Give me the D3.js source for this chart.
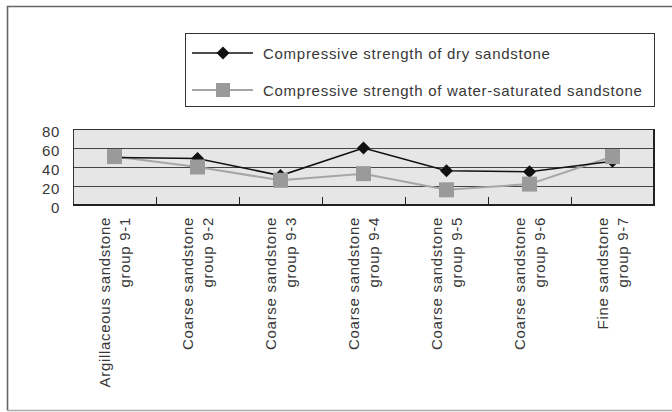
<!DOCTYPE html>
<html>
<head>
<meta charset="utf-8">
<script src="https://cdn.jsdelivr.net/npm/d3@7/dist/d3.min.js"></script>
<style>
  html, body { margin: 0; padding: 0; background: #fff; }
  svg text { font-family: "Liberation Sans", Arial, Helvetica, sans-serif; fill: #383838; letter-spacing: 0.6px; }
</style>
</head>
<body>
<svg id="chart" width="672" height="412"></svg>
<script>
// Rock groups (two-line labels) and compressive strengths
const categories = [
  ["Argillaceous sandstone", "group 9-1"],
  ["Coarse sandstone", "group 9-2"],
  ["Coarse sandstone", "group 9-3"],
  ["Coarse sandstone", "group 9-4"],
  ["Coarse sandstone", "group 9-5"],
  ["Coarse sandstone", "group 9-6"],
  ["Fine sandstone", "group 9-7"]
];
const drySeries = [50, 49, 31, 60, 36, 35, 46];
const wetSeries = [51, 40, 26, 33, 16, 22, 51];
const yTicks = [0, 20, 40, 60, 80];
const seriesNames = [
  "Compressive strength of dry sandstone",
  "Compressive strength of water-saturated sandstone"
];

const svg = d3.select("#chart");
const plot = { left: 73, top: 129, right: 654, bottom: 205 };

const x = d3.scaleBand()
  .domain(d3.range(categories.length))
  .range([plot.left, plot.right])
  .padding(0);
const y = d3.scaleLinear().domain([0, 80]).range([plot.bottom, plot.top]);
const cx = i => x(i) + x.bandwidth() / 2;

// outer frame (its right edge runs off the page)
svg.append("path")
  .attr("d", `M 690 6.5 H 7.5 V 410.5`)
  .attr("fill", "none").attr("stroke", "#666").attr("stroke-width", 1.6);
svg.append("line")
  .attr("x1", 7.5).attr("x2", 690).attr("y1", 410.5).attr("y2", 410.5)
  .attr("stroke", "#aaa").attr("stroke-width", 1.4);

// plot background
svg.append("rect")
  .attr("x", plot.left).attr("y", plot.top)
  .attr("width", plot.right - plot.left).attr("height", plot.bottom - plot.top)
  .attr("fill", "#e6e6e6");

// horizontal gridlines
svg.append("g")
  .selectAll("line")
  .data(yTicks.filter(t => t > 0 && t < 80))
  .join("line")
  .attr("x1", plot.left).attr("x2", plot.right)
  .attr("y1", d => Math.round(y(d)) + 0.5).attr("y2", d => Math.round(y(d)) + 0.5)
  .attr("stroke", "#444").attr("stroke-width", 1);

// category boundary ticks, pointing up from the bottom edge
svg.append("g")
  .selectAll("line")
  .data(d3.range(1, categories.length))
  .join("line")
  .attr("x1", d => Math.round(x(d)) + 0.5).attr("x2", d => Math.round(x(d)) + 0.5)
  .attr("y1", plot.bottom).attr("y2", plot.bottom - 8)
  .attr("stroke", "#222").attr("stroke-width", 1);

// plot border with a heavier bottom/right edge
svg.append("rect")
  .attr("x", plot.left + 0.5).attr("y", plot.top + 0.5)
  .attr("width", plot.right - plot.left - 1).attr("height", plot.bottom - plot.top - 1)
  .attr("fill", "none").attr("stroke", "#333").attr("stroke-width", 1);
svg.append("path")
  .attr("d", `M ${plot.right} ${plot.top} V ${plot.bottom} H ${plot.left}`)
  .attr("fill", "none").attr("stroke", "#222").attr("stroke-width", 2);

// y tick labels
svg.append("g")
  .selectAll("text")
  .data(yTicks)
  .join("text")
  .attr("x", 60).attr("y", d => y(d) + 2)
  .attr("text-anchor", "end").attr("dominant-baseline", "central")
  .attr("font-size", 15)
  .text(d => d);

// category labels, rotated, two lines each
const catG = svg.append("g")
  .selectAll("g")
  .data(categories)
  .join("g")
  .attr("transform", (d, i) => `translate(${cx(i)},217) rotate(-90)`);
catG.each(function (d) {
  const g = d3.select(this);
  d.forEach((line, k) => {
    g.append("text")
      .attr("x", 0).attr("y", k === 0 ? -10 : 10)
      .attr("text-anchor", "end").attr("dominant-baseline", "central")
      .attr("font-size", 15)
      .style("letter-spacing", "0.7px")
      .text(line);
  });
});

// series lines
const lineGen = d3.line().x((d, i) => cx(i)).y(d => y(d));
svg.append("path").datum(wetSeries)
  .attr("d", lineGen).attr("fill", "none")
  .attr("stroke", "#a6a6a6").attr("stroke-width", 2);
svg.append("path").datum(drySeries)
  .attr("d", lineGen).attr("fill", "none")
  .attr("stroke", "#111").attr("stroke-width", 1.6);

// markers
const diamond = (px, py, r) => `M ${px} ${py - r} L ${px + r} ${py} L ${px} ${py + r} L ${px - r} ${py} Z`;
svg.append("g").selectAll("path")
  .data(drySeries)
  .join("path")
  .attr("d", (d, i) => diamond(cx(i), y(d), 6.5))
  .attr("fill", "#111");
svg.append("g").selectAll("rect")
  .data(wetSeries)
  .join("rect")
  .attr("x", (d, i) => cx(i) - 7.5).attr("y", d => y(d) - 7.5)
  .attr("width", 15).attr("height", 15)
  .attr("fill", "#9a9a9a");

// legend
const legend = svg.append("g");
legend.append("rect")
  .attr("x", 185.5).attr("y", 33.5).attr("width", 469).attr("height", 73)
  .attr("fill", "#fff").attr("stroke", "#333").attr("stroke-width", 1);
const legendRows = [
  { name: seriesNames[0], y: 53, color: "#111", width: 1.4, marker: "diamond" },
  { name: seriesNames[1], y: 90, color: "#a6a6a6", width: 2, marker: "square" }
];
legendRows.forEach(r => {
  legend.append("line")
    .attr("x1", 192).attr("x2", 253).attr("y1", r.y).attr("y2", r.y)
    .attr("stroke", r.color).attr("stroke-width", r.width);
  if (r.marker === "diamond") {
    legend.append("path").attr("d", diamond(223, r.y, 6.5)).attr("fill", "#111");
  } else {
    legend.append("rect").attr("x", 216).attr("y", r.y - 7).attr("width", 14).attr("height", 14)
      .attr("fill", "#9a9a9a");
  }
  legend.append("text")
    .attr("x", 263).attr("y", r.y + 5.5)
    .attr("font-size", 15)
    .style("letter-spacing", "0.72px")
    .text(r.name);
});
</script>
</body>
</html>
